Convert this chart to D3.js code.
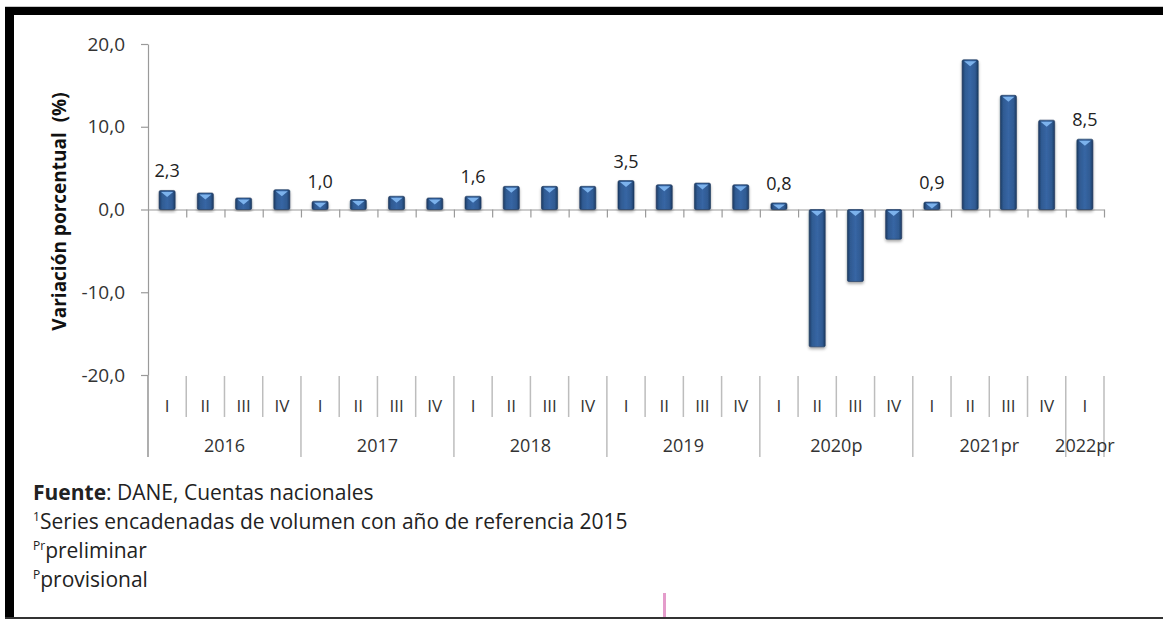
<!DOCTYPE html>
<html>
<head>
<meta charset="utf-8">
<script src="https://cdn.jsdelivr.net/npm/d3@7"></script>
<style>
  body { margin: 0; background: #fff; }
  svg { display: block; font-family: "Open Sans", sans-serif; }
</style>
</head>
<body>
<svg id="chart" width="1163" height="619"></svg>
<script>
// data
var years = ["2016", "2017", "2018", "2019", "2020p", "2021pr", "2022pr"];
var quarters = ["I", "II", "III", "IV"];
var quartersPerYear = [4, 4, 4, 4, 4, 4, 1];
var values = [2.3, 2.0, 1.4, 2.4,
              1.0, 1.2, 1.6, 1.4,
              1.6, 2.8, 2.8, 2.8,
              3.5, 3.0, 3.2, 3.0,
              0.8, -16.6, -8.7, -3.6,
              0.9, 18.1, 13.8, 10.8,
              8.5];
var labelled = [0, 4, 8, 12, 16, 20, 24];   // bars that carry a value label
var yTicks = [-20, -10, 0, 10, 20];
var notes = ["DANE, Cuentas nacionales",
             "Series encadenadas de volumen con año de referencia 2015",
             "preliminar",
             "provisional"];

var svg = d3.select("#chart");
var fmt = d3.formatLocale({decimal: ",", thousands: ".", grouping: [3], currency: ["$", ""], minus: "-"}).format(".1f");

// frame
svg.append("rect").attr("x", 5).attr("y", 6).attr("width", 1158).attr("height", 1).attr("fill", "#c8c8c8");
svg.append("rect").attr("x", 5).attr("y", 7).attr("width", 1158).attr("height", 8).attr("fill", "#000");
svg.append("rect").attr("x", 5).attr("y", 7).attr("width", 9).attr("height", 612).attr("fill", "#000");
svg.append("rect").attr("x", 5).attr("y", 617).attr("width", 1158).attr("height", 2).attr("fill", "#333");

var n = values.length;
var left = 148, right = 1104;
var idx = d3.range(n);

var x = d3.scaleBand().domain(idx).range([left, right]).paddingInner(0.58).paddingOuter(0.29);
var xi = d3.scaleLinear().domain([0, n]).range([left, right]);
var y = d3.scaleLinear().domain([-20, 20]).range([375, 44]);

// bar styling
var defs = svg.append("defs");
var grad = defs.append("linearGradient").attr("id", "barGrad").attr("x1", "0").attr("x2", "1").attr("y1", "0").attr("y2", "0");
grad.append("stop").attr("offset", "0%").attr("stop-color", "#1d3b63");
grad.append("stop").attr("offset", "18%").attr("stop-color", "#2f5a92");
grad.append("stop").attr("offset", "50%").attr("stop-color", "#3766a4");
grad.append("stop").attr("offset", "82%").attr("stop-color", "#2f5a92");
grad.append("stop").attr("offset", "100%").attr("stop-color", "#1d3b63");
var shadow = defs.append("filter").attr("id", "shadow").attr("x", "-50%").attr("y", "-10%").attr("width", "200%").attr("height", "130%");
shadow.append("feDropShadow").attr("dx", 0).attr("dy", 2).attr("stdDeviation", 1.5).attr("flood-color", "#000").attr("flood-opacity", 0.35);

// y axis
var yAxis = svg.append("g")
  .attr("transform", "translate(" + left + ",0)")
  .call(d3.axisLeft(y).tickValues(yTicks).tickSize(7).tickSizeOuter(0).tickPadding(16).tickFormat(fmt));
yAxis.select(".domain").attr("stroke", "#9a9a9a").attr("stroke-width", 1.2);
yAxis.selectAll(".tick line").attr("stroke", "#9a9a9a").attr("stroke-width", 1.2);
yAxis.selectAll(".tick text").attr("font-size", 19).attr("fill", "#333").attr("font-family", "Open Sans");

svg.append("text")
  .attr("transform", "translate(66," + (y(0) + 2) + ") rotate(-90)")
  .attr("text-anchor", "middle")
  .style("white-space", "pre")
  .attr("font-size", 19).attr("font-weight", "bold").attr("fill", "#111")
  .text("Variación porcentual  (%)");

// zero line with category ticks
var xAxis = svg.append("g")
  .attr("transform", "translate(0," + y(0) + ")")
  .call(d3.axisBottom(xi).tickValues(d3.range(1, n + 1)).tickSize(8).tickSizeOuter(0).tickFormat(""));
xAxis.select(".domain").attr("stroke", "#9a9a9a").attr("stroke-width", 1.2);
xAxis.selectAll(".tick line").attr("stroke", "#9a9a9a").attr("stroke-width", 1.2);

// bars
var bars = svg.append("g").selectAll("g").data(values).enter().append("g");
bars.append("rect")
  .attr("x", function(d, i) { return x(i); })
  .attr("y", function(d) { return y(Math.max(0, d)); })
  .attr("width", x.bandwidth())
  .attr("height", function(d) { return Math.abs(y(d) - y(0)); })
  .attr("rx", 1.5)
  .attr("fill", "url(#barGrad)")
  .attr("stroke", "#1c365a").attr("stroke-width", 0.6)
  .attr("filter", "url(#shadow)");
bars.append("path")
  .attr("d", function(d, i) {
    var x0 = x(i) + 2, x1 = x(i) + x.bandwidth() - 2, t = y(Math.max(0, d)) + 1.5;
    var h = Math.min(5, Math.abs(y(d) - y(0)) - 2);
    return "M" + x0 + "," + t + "L" + x1 + "," + t + "L" + (x0 + x1) / 2 + "," + (t + h) + "Z";
  })
  .attr("fill", "#7cb2ec");

// value labels
svg.append("g").selectAll("text").data(labelled).enter().append("text")
  .attr("x", function(i) { return x(i) + x.bandwidth() / 2; })
  .attr("y", function(i) { return y(Math.max(0, values[i])) - 13; })
  .attr("text-anchor", "middle")
  .attr("font-size", 18).attr("fill", "#222")
  .text(function(i) { return fmt(values[i]); });

// category axis below the plot
var cats = [];
years.forEach(function(yr, k) {
  for (var q = 0; q < quartersPerYear[k]; q++) cats.push({year: yr, q: quarters[q], first: q === 0});
});
var sep = svg.append("g").attr("stroke", "#bdbdbd").attr("stroke-width", 1.5);
cats.forEach(function(c, i) {
  sep.append("line").attr("x1", xi(i)).attr("x2", xi(i)).attr("y1", 376).attr("y2", c.first ? 457 : 417);
});
sep.append("line").attr("x1", xi(n)).attr("x2", xi(n)).attr("y1", 376).attr("y2", 457);
svg.append("line").attr("x1", left).attr("x2", left).attr("y1", 375).attr("y2", 457).attr("stroke", "#9a9a9a").attr("stroke-width", 1.2);

svg.append("g").selectAll("text").data(cats).enter().append("text")
  .attr("x", function(c, i) { return xi(i + 0.5); })
  .attr("y", 412)
  .attr("text-anchor", "middle")
  .attr("font-size", 17).attr("fill", "#333")
  .text(function(c) { return c.q; });

var start = 0;
var yearPos = years.map(function(yr, k) {
  var mid = start + quartersPerYear[k] / 2;
  start += quartersPerYear[k];
  return {year: yr, mid: mid};
});
svg.append("g").selectAll("text").data(yearPos).enter().append("text")
  .attr("x", function(d) { return xi(d.mid); })
  .attr("y", 452)
  .attr("text-anchor", "middle")
  .attr("font-size", 18).attr("fill", "#333")
  .text(function(d) { return d.year; });

// notes
var nt = svg.append("g").attr("font-size", 21).attr("fill", "#222");
var l1 = nt.append("text").attr("x", 33).attr("y", 500);
l1.append("tspan").attr("font-weight", "bold").text("Fuente");
l1.append("tspan").text(": " + notes[0]);
var l2 = nt.append("text").attr("x", 33).attr("y", 529);
l2.append("tspan").attr("font-size", 12).attr("dy", -8).text("1");
l2.append("tspan").attr("dy", 8).text(notes[1]);
var l3 = nt.append("text").attr("x", 33).attr("y", 558);
l3.append("tspan").attr("font-size", 12).attr("dy", -8).text("Pr");
l3.append("tspan").attr("dy", 8).text(notes[2]);
var l4 = nt.append("text").attr("x", 33).attr("y", 587);
l4.append("tspan").attr("font-size", 12).attr("dy", -8).text("P");
l4.append("tspan").attr("dy", 8).text(notes[3]);

// small pink mark at the bottom edge
svg.append("rect").attr("x", 663).attr("y", 593).attr("width", 3).attr("height", 24).attr("fill", "#e49ccb");
</script>
</body>
</html>
